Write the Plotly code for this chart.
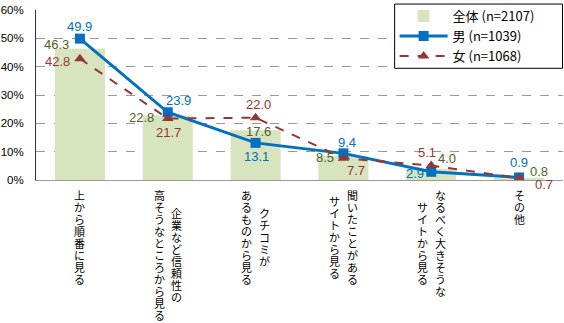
import plotly.graph_objects as go

categories = ["上から順番に見る", "企業など信頼性の高そうなところから見る", "クチコミがあるものから見る",
              "聞いたことがあるサイトから見る", "なるべく大きそうなサイトから見る", "その他"]
label_lines = [["上から順番に見る"], ["企業など信頼性の", "高そうなところから見る"], ["クチコミが", "あるものから見る"],
               ["聞いたことがある", "サイトから見る"], ["なるべく大きそうな", "サイトから見る"], ["その他"]]
total = [46.3, 22.8, 17.6, 8.5, 4.0, 0.8]
male = [49.9, 23.9, 13.1, 9.4, 2.9, 0.9]
female = [42.8, 21.7, 22.0, 7.7, 5.1, 0.7]
names = ["全体 (n=2107)", "男 (n=1039)", "女 (n=1068)"]
yticks = [0, 10, 20, 30, 40, 50, 60]

C_BAR = "#d7e4bd"
C_TOT = "#4f6228"
C_M = "#0070c0"
C_F = "#953735"
NUMFONT = "Liberation Sans, Arial, sans-serif"
JPFONT = "Noto Sans CJK JP, sans-serif"

fig = go.Figure()
fig.add_trace(go.Bar(x=categories, y=total, name=names[0], marker_color=C_BAR, marker_line_width=0))
fig.add_trace(go.Scatter(x=categories, y=male, name=names[1], mode="lines+markers",
                         line=dict(color=C_M, width=3), marker=dict(symbol="square", size=10, color=C_M)))
fig.add_trace(go.Scatter(x=categories, y=female, name=names[2], mode="lines+markers",
                         line=dict(color=C_F, width=2, dash="dash"),
                         marker=dict(symbol="triangle-up", size=10, color=C_F)))

# data label offsets (pixels, dx right, dy up) per point
tot_off = [(-23, 4), (-26, -2), (3, -1.5), (-18, -2), (16, 10.5), (20, 6)]
male_off = [(0, 12.5), (11, 12), (1, -13.5), (4, 11), (-16.5, -2), (0, 15)]
fem_off = [(-22, -3), (1, -14), (3, 13), (13, -12), (-4, 13), (25, -6)]

ann = []
for series, offs, col in [(total, tot_off, C_TOT), (male, male_off, C_M), (female, fem_off, C_F)]:
    for c, v, (dx, dy) in zip(categories, series, offs):
        ann.append(dict(x=c, y=v, xref="x", yref="y", text=f"{v:.1f}", showarrow=False,
                        xshift=dx, yshift=dy, font=dict(family=NUMFONT, size=13, color=col)))

# vertical (tategaki) category labels
PITCH = 12.0
COLSP = 17.5
TOP = 8.5
for c, lines in zip(categories, label_lines):
    maxlen = max(len(l) for l in lines)
    center = TOP + maxlen * PITCH / 2
    ncol = len(lines)
    for j, line in enumerate(lines):
        xs = ((ncol - 1) / 2 - j) * COLSP
        n = len(line)
        for i, ch in enumerate(line):
            yc = center + (i - (n - 1) / 2) * PITCH
            ann.append(dict(x=c, y=0, xref="x", yref="paper", text=ch, showarrow=False,
                            xshift=xs, yshift=-yc, yanchor="middle", borderpad=0,
                            font=dict(family=JPFONT, size=11, color="black")))

fig.update_layout(
    width=564, height=323,
    margin=dict(l=34, r=1, t=8, b=143),
    plot_bgcolor="white", paper_bgcolor="white",
    bargap=0.43,
    showlegend=True,
    legend=dict(x=0.6805, y=1.052, xanchor="left", yanchor="top", bgcolor="rgba(0,0,0,0)",
                borderwidth=0, font=dict(family=JPFONT, size=13, color="black"),
                tracegroupgap=0, itemwidth=48),
    shapes=[dict(type="rect", xref="paper", yref="paper", x0=0.6805, x1=0.999, y0=0.657, y1=1.035,
                 line=dict(color="black", width=1), fillcolor="white", layer="above")],
    annotations=ann,
)
fig.update_xaxes(showticklabels=False, showline=True, linecolor="#999999", linewidth=1,
                 showgrid=False, ticks="")
fig.update_yaxes(range=[0, 60], tickvals=yticks, ticktext=[f"{v}%" for v in yticks], showline=True,
                 linecolor="#333333", linewidth=1, showgrid=True, gridcolor="#999999", griddash="dash",
                 gridwidth=1, zeroline=False, ticklabelstandoff=9,
                 tickfont=dict(family=NUMFONT, size=11.5, color="black"))
fig.write_html("out.html")
